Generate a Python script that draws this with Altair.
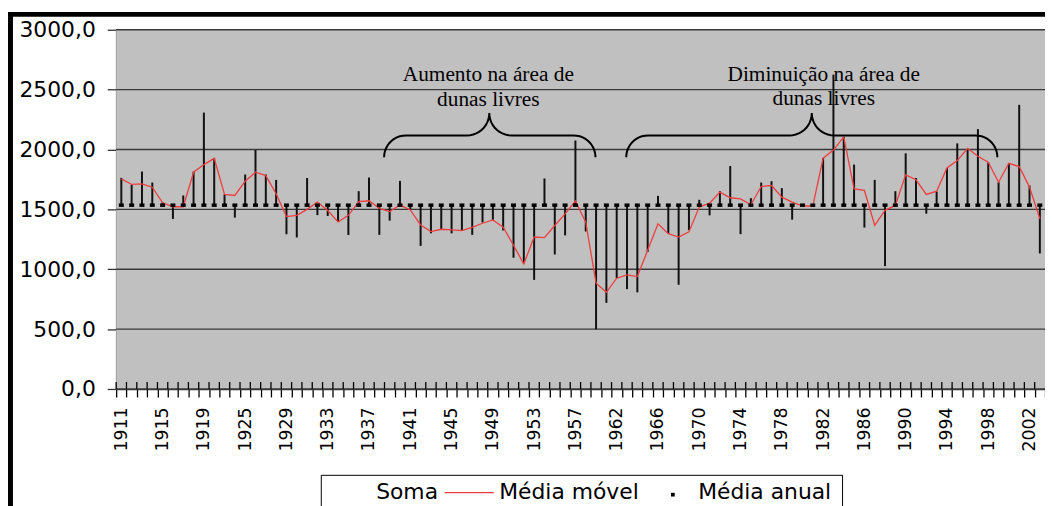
import altair as alt
import pandas as pd
import numpy as np

# ---------------- data ----------------
years = [str(y) for y in list(range(1911, 1922)) + list(range(1924, 1959)) + list(range(1960, 2004))]

soma = [1763, 1705, 1816, 1724, 1560, 1420, 1616, 1816, 2308, 1926,
        1625, 1431, 1791, 1996, 1791, 1746, 1292, 1265, 1762, 1452,
        1445, 1398, 1286, 1652, 1766, 1287, 1406, 1738, 1500, 1195,
        1300, 1328, 1300, 1323, 1287, 1390, 1412, 1324, 1096, 1049,
        911, 1758, 1123, 1283, 2075, 1316, 499, 719, 925, 834,
        807, 1145, 1613, 1297, 870, 1326, 1580, 1450, 1652, 1862,
        1293, 1594, 1724, 1735, 1677, 1414, 1530, 1545, 1928, 2625,
        2105, 1874, 1348, 1746, 1026, 1652, 1968, 1763, 1464, 1650,
        1846, 2051, 2004, 2170, 1893, 1727, 1885, 2373, 1699, 1132]

media_movel = [1755, 1708, 1713, 1685, 1555, 1522, 1522, 1810, 1874, 1926,
               1625, 1616, 1735, 1810, 1782, 1630, 1440, 1450, 1500, 1562,
               1490, 1395, 1450, 1564, 1572, 1508, 1481, 1536, 1495, 1370,
               1315, 1334, 1328, 1323, 1350, 1384, 1412, 1351, 1200, 1044,
               1269, 1264, 1365, 1462, 1571, 1393, 884, 807, 925, 953,
               939, 1159, 1379, 1297, 1269, 1312, 1519, 1552, 1644, 1597,
               1588, 1539, 1691, 1699, 1602, 1561, 1528, 1528, 1928, 1995,
               2105, 1671, 1658, 1367, 1492, 1533, 1788, 1747, 1625, 1652,
               1846, 1907, 2010, 1943, 1893, 1727, 1885, 1857, 1686, 1422]

media_anual = 1535.0

label_years = ["1911", "1915", "1919", "1925", "1929", "1933", "1937", "1941",
               "1945", "1949", "1953", "1957", "1962", "1966", "1970", "1974",
               "1978", "1982", "1986", "1990", "1994", "1998", "2002"]
y_ticks = [0, 500, 1000, 1500, 2000, 2500, 3000]

ann_lines = ["Aumento na área de", "dunas livres", "Diminuição na área de", "dunas livres"]
legend_labels = ["Soma", "Média móvel", "Média anual"]

# ---------------- layout (pixels) ----------------
W, H = 936, 362          # plot area
OX, OY = 117, 28         # plot origin on the page
RED = "#f03c3c"
GRID = "#383838"
DASH = "M-1,-0.7L1,-0.7L1,0.7L-1,0.7Z"

df = pd.DataFrame({"ano": years, "soma": soma, "mm": media_movel,
                   "media": [media_anual] * len(years)})
grid_df = pd.DataFrame({"g": y_ticks})

xscale = alt.Scale(type="band", paddingInner=0, paddingOuter=0)
yscale = alt.Scale(domain=[0, 3000], nice=False, zero=True)

lab_list = "[" + ",".join("'%s'" % y for y in label_years) + "]"
xaxis = alt.Axis(title=None, labelAngle=270,
                 labelExpr="indexof(%s, datum.value) >= 0 ? datum.value : ''" % lab_list,
                 labelOverlap=False, labelBound=False, labelFlush=False,
                 labelFont="DejaVu Sans", labelFontSize=17.5, labelColor="black",
                 labelPadding=10, tickBand="extent", tickSize=8, tickColor="black",
                 tickWidth=1.3, domainColor="#333333", domainWidth=1.5, grid=False)
yaxis = alt.Axis(title=None, values=y_ticks,
                 labelExpr="replace(format(datum.value, '.1f'), '.', ',')",
                 labelFont="DejaVu Sans", labelFontSize=22, labelColor="black",
                 labelPadding=12, labelOverlap=False, labelBound=False, labelFlush=False,
                 tickSize=9, tickColor="#333333", tickWidth=1.3,
                 domainColor="#333333", domainWidth=1.5, grid=False)

X = alt.X("ano:N", sort=None, scale=xscale, axis=xaxis)
base = alt.Chart(df)

bg = alt.Chart(pd.DataFrame({"k": [0]})).mark_rect(color="#c0c0c0").encode(
    x=alt.value(0), x2=alt.value(W), y=alt.value(0), y2=alt.value(H))
grid = alt.Chart(grid_df).mark_rule(color=GRID, strokeWidth=1.3).encode(
    y=alt.Y("g:Q", scale=yscale, axis=yaxis), x=alt.value(0), x2=alt.value(W))
bars = base.mark_rule(color="#111111", strokeWidth=2).encode(
    x=X, y=alt.Y("media:Q", scale=yscale), y2="soma:Q")
ticks_up = base.mark_rule(color="black", strokeWidth=1.3).encode(
    x=alt.X("ano:N", sort=None, scale=xscale, bandPosition=0),
    y=alt.value(H - 7), y2=alt.value(H))
line = base.mark_line(color=RED, strokeWidth=1.3).encode(
    x=alt.X("ano:N", sort=None, scale=xscale), y=alt.Y("mm:Q", scale=yscale))
dots = base.mark_point(shape=DASH, size=25, filled=True, color="black", opacity=1).encode(
    x=alt.X("ano:N", sort=None, scale=xscale), y=alt.Y("media:Q", scale=yscale))

main = alt.layer(bg, grid, bars, ticks_up, line, dots)

# ---------------- overlay in pixel coordinates ----------------
ix = alt.Scale(domain=[0, W], range=[0, W], nice=False, zero=False)
iy = alt.Scale(domain=[0, H], range=[0, H], nice=False, zero=False)


def brace(x0, x1, xm, ytop=112.0, ymid=134.5, ybot=157.0, r=22.0, bid=0):
    pts = []
    cx, cy = x0 + r, ymid + r
    for t in np.linspace(np.pi, 1.5 * np.pi, 12):
        pts.append((cx + r * np.cos(t), cy + r * np.sin(t)))
    rt = ymid - ytop
    cx, cy = xm - rt, ymid - rt
    for t in np.linspace(0.5 * np.pi, 0.0, 12):
        pts.append((cx + rt * np.cos(t), cy + rt * np.sin(t)))
    cx, cy = xm + rt, ymid - rt
    for t in np.linspace(np.pi, 0.5 * np.pi, 12):
        pts.append((cx + rt * np.cos(t), cy + rt * np.sin(t)))
    cx, cy = x1 - r, ymid + r
    for t in np.linspace(1.5 * np.pi, 2 * np.pi, 12):
        pts.append((cx + r * np.cos(t), cy + r * np.sin(t)))
    return pd.DataFrame({"px": [p[0] - OX for p in pts], "py": [p[1] - OY for p in pts],
                         "o": list(range(len(pts))), "id": [bid] * len(pts)})


braces_df = pd.concat([brace(387, 600, 493, bid=0), brace(631, 1005, 818, bid=1)])
braces = alt.Chart(braces_df).mark_line(color="black", strokeWidth=2).encode(
    x=alt.X("px:Q", scale=ix, axis=None), y=alt.Y("py:Q", scale=iy, axis=None),
    detail="id:N", order="o:Q")

ann_df = pd.DataFrame({"px": [492 - OX, 492 - OX, 830 - OX, 830 - OX],
                       "py": [80 - OY, 104.5 - OY, 79.5 - OY, 104 - OY],
                       "t": ann_lines})
ann = alt.Chart(ann_df).mark_text(font="Liberation Serif", fontSize=21.5, color="black",
                                  align="center", baseline="alphabetic").encode(
    x=alt.X("px:Q", scale=ix, axis=None), y=alt.Y("py:Q", scale=iy, axis=None), text="t:N")

frame_df = pd.DataFrame({"x": [-OX, 10.5 - OX], "x2": [W, 10.5 - OX],
                         "y": [12.5 - OY, 10 - OY], "y2": [12.5 - OY, 520 - OY]})
frame = alt.Chart(frame_df).mark_rule(color="black", strokeWidth=5).encode(
    x=alt.X("x:Q", scale=ix, axis=None), x2="x2:Q",
    y=alt.Y("y:Q", scale=iy, axis=None), y2="y2:Q")

box_df = pd.DataFrame({"x": [323.7 - OX], "x2": [849 - OX], "y": [477 - OY], "y2": [520 - OY]})
box = alt.Chart(box_df).mark_rect(fill="white", stroke="black", strokeWidth=1).encode(
    x=alt.X("x:Q", scale=ix, axis=None), x2="x2:Q",
    y=alt.Y("y:Q", scale=iy, axis=None), y2="y2:Q")
leg_txt_df = pd.DataFrame({"px": [379 - OX, 503 - OX, 703.5 - OX],
                           "py": [500.5 - OY] * 3, "t": legend_labels})
leg_txt = alt.Chart(leg_txt_df).mark_text(font="DejaVu Sans", fontSize=22, color="black",
                                          align="left", baseline="alphabetic").encode(
    x=alt.X("px:Q", scale=ix, axis=None), y=alt.Y("py:Q", scale=iy, axis=None), text="t:N")
leg_line_df = pd.DataFrame({"x": [448 - OX], "x2": [497.5 - OX], "y": [494.5 - OY]})
leg_line = alt.Chart(leg_line_df).mark_rule(color=RED, strokeWidth=1.3).encode(
    x=alt.X("x:Q", scale=ix, axis=None), x2="x2:Q", y=alt.Y("y:Q", scale=iy, axis=None))
leg_sq_df = pd.DataFrame({"x": [678 - OX], "y": [496.5 - OY]})
leg_sq = alt.Chart(leg_sq_df).mark_square(size=14, color="black", opacity=1).encode(
    x=alt.X("x:Q", scale=ix, axis=None), y=alt.Y("y:Q", scale=iy, axis=None))

overlay = alt.layer(braces, ann, box, leg_txt, leg_line, leg_sq, frame)

chart = alt.layer(main, overlay).resolve_scale(x="independent", y="independent").properties(
    width=W, height=H,
    autosize=alt.AutoSizeParams(type="none"),
    padding={"left": OX - 8, "top": OY - 8, "right": 0, "bottom": 498 - H - (OY - 8)},
).configure_view(strokeWidth=0).configure(background="white")

chart.save("out.html", embed_options={"renderer": "svg", "actions": False})
